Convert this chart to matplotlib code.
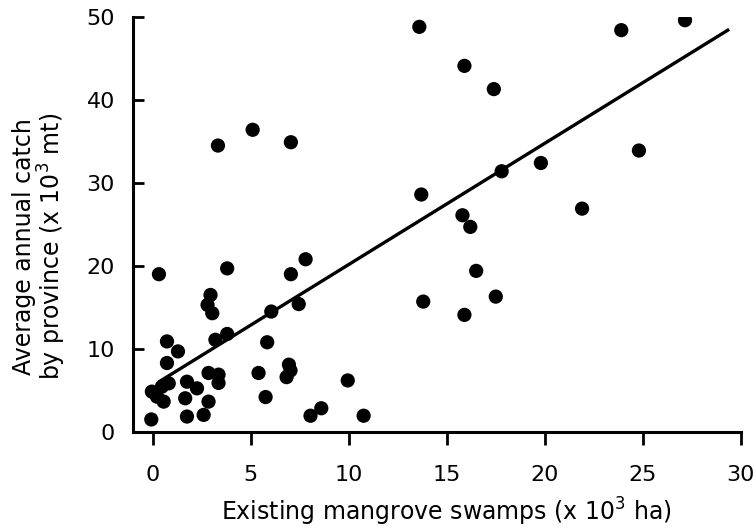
import numpy as np
import matplotlib.pyplot as plt

# mangrove area (x 10^3 ha) and average annual catch (x 10^3 mt)
mangrove = [13.6, 27.15, 23.9, 15.9, 17.4, 24.8, 19.8, 17.8, 13.7, 21.9,
            15.8, 16.2, 16.5, 13.8, 17.5, 15.9,
            3.33, 5.1, 7.05, 0.32, 3.8, 7.05, 7.8,
            2.95, 2.8, 3.04, 3.2, 3.8, 6.05, 7.45,
            0.73, 1.29, 0.73, 5.84, 5.4, 6.95, 7.03, 6.83, 9.95, 5.76,
            8.6, 8.05, 10.76,
            2.85, 3.36, 3.36, 1.75, 2.26, 1.66, 2.85, 2.6, 1.75, -0.07,
            -0.04, 0.47, 0.82, 0.56, 0.22]
catch = [48.8, 49.6, 48.4, 44.1, 41.3, 33.9, 32.4, 31.4, 28.6, 26.9,
         26.1, 24.7, 19.4, 15.7, 16.3, 14.1,
         34.5, 36.4, 34.9, 19.0, 19.7, 19.0, 20.8,
         16.5, 15.3, 14.3, 11.1, 11.8, 14.5, 15.4,
         10.9, 9.7, 8.3, 10.8, 7.1, 8.1, 7.4, 6.6, 6.2, 4.2,
         2.85, 1.95, 1.95,
         7.1, 6.9, 5.9, 6.05, 5.25, 4.05, 3.65, 2.05, 1.85, 1.5,
         4.85, 5.45, 5.85, 3.65, 4.25]

# fitted regression line, end points
fit_x = [0.3, 29.4]
fit_y = [6.0, 48.5]

plt.rcParams['font.family'] = ['DejaVu Sans']

fig = plt.figure(figsize=(7.56, 5.28), dpi=100)
ax = fig.add_axes([0.176, 0.182, 0.804, 0.786])

ax.scatter(mangrove, catch, s=105, color='black', edgecolors='none', zorder=3)
ax.plot(fit_x, fit_y, color='black', lw=2.4, solid_capstyle='butt')

ax.set_xlim(-1, 30)
ax.set_ylim(0, 50)
ax.set_xticks([0, 5, 10, 15, 20, 25, 30])
ax.set_yticks([0, 10, 20, 30, 40, 50])

for side in ['top', 'right']:
    ax.spines[side].set_visible(False)
for side in ['left', 'bottom']:
    ax.spines[side].set_linewidth(2.2)

ax.tick_params(axis='x', direction='out', length=9, width=2, pad=15, labelsize=16)
ax.tick_params(axis='y', direction='in', length=8, width=2, pad=13, labelsize=16)

ax.set_xlabel('Existing mangrove swamps (x 10$^3$ ha)', fontsize=17)
ax.set_ylabel('Average annual catch\nby province (x 10$^3$ mt)', fontsize=17,
              linespacing=1.0)
ax.xaxis.set_label_coords(0.515, -0.155)
ax.yaxis.set_label_coords(-0.107, 0.446)

fig.savefig('out.png', dpi=100)
